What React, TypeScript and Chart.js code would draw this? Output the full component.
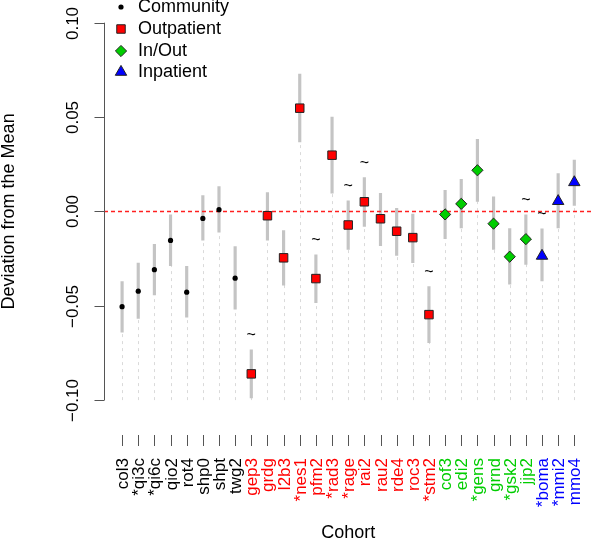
import React, { useEffect, useRef } from 'react';
import { Chart, registerables } from 'chart.js';
Chart.register(...registerables);

const cohorts = ['col3', '*qi3c', '*qi6c', 'qio2', 'rot4', 'shp0', 'shpt', 'twg2', 'gep3', 'grdg', 'l2b3', '*nes1', 'pfm2', '*rad3', '*rage', 'rai2', 'rau2', 'rde4', 'roc3', '*stm2', 'cof3', 'edi2', '*gens', 'grnd', '*gsk2', 'jjp2', '*boma', '*mmi2', 'mmo4'];
const groupOf = [0, 0, 0, 0, 0, 0, 0, 0, 1, 1, 1, 1, 1, 1, 1, 1, 1, 1, 1, 1, 2, 2, 2, 2, 2, 2, 3, 3, 3];
const means = [-0.0505, -0.0423, -0.0309, -0.0154, -0.0428, -0.0037, 0.0009, -0.0354, -0.0861, -0.0023, -0.0246, 0.0547, -0.0356, 0.0298, -0.0072, 0.0051, -0.0039, -0.0105, -0.0139, -0.0547, -0.0016, 0.0040, 0.0218, -0.0065, -0.0240, -0.0147, -0.0236, 0.0054, 0.0154];
const lower = [-0.0640, -0.0567, -0.0442, -0.0288, -0.0560, -0.0153, -0.0110, -0.0518, -0.0988, -0.0153, -0.0391, 0.0368, -0.0484, 0.0096, -0.0202, -0.0079, -0.0181, -0.0233, -0.0272, -0.0696, -0.0144, -0.0088, 0.0053, -0.0202, -0.0386, -0.0281, -0.0368, -0.0088, 0.0032];
const upper = [-0.0372, -0.0274, -0.0175, -0.0018, -0.0291, 0.0084, 0.0132, -0.0186, -0.0733, 0.0100, -0.0102, 0.0728, -0.0230, 0.0500, 0.0056, 0.0179, 0.0096, 0.0016, -0.0014, -0.0398, 0.0112, 0.0170, 0.0382, 0.0077, -0.0091, -0.0018, -0.0093, 0.0200, 0.0272];
const tildeFlags = [0, 0, 0, 0, 0, 0, 0, 0, 1, 0, 0, 0, 1, 0, 1, 1, 0, 0, 0, 1, 0, 0, 0, 0, 0, 1, 1, 0, 0];
const yTicks = [0.1, 0.05, 0, -0.05, -0.1];
const yTickLabels = ['0.10', '0.05', '0.00', '\u22120.05', '\u22120.10'];
const groupNames = ['Community', 'Outpatient', 'In/Out', 'Inpatient'];
const groupColors = ['#000000', '#ff0000', '#00cd00', '#0000ff'];
const groupStyles = ['circle', 'rect', 'rectRot', 'triangle'];
const groupRadius = [2.6, 6, 5.6, 6.6];
const xMin = -1.12;
const xMax = 29.12;

const FONT = '"Liberation Sans", Arial, sans-serif';

function drawMarker(ctx: CanvasRenderingContext2D, g: number, x: number, y: number) {
  ctx.save();
  ctx.fillStyle = groupColors[g];
  ctx.strokeStyle = '#222';
  ctx.lineWidth = 1;
  const r = groupRadius[g];
  ctx.beginPath();
  if (g === 0) {
    ctx.arc(x, y, r, 0, Math.PI * 2);
    ctx.fill();
  } else if (g === 1) {
    const s = Math.SQRT1_2 * r;
    ctx.rect(x - s, y - s, 2 * s, 2 * s);
    ctx.fill();
    ctx.stroke();
  } else if (g === 2) {
    ctx.moveTo(x - r, y);
    ctx.lineTo(x, y - r);
    ctx.lineTo(x + r, y);
    ctx.lineTo(x, y + r);
    ctx.closePath();
    ctx.fill();
    ctx.stroke();
  } else {
    const w = r * Math.sin((2 * Math.PI) / 3);
    ctx.moveTo(x, y - r);
    ctx.lineTo(x + w, y + r / 2);
    ctx.lineTo(x - w, y + r / 2);
    ctx.closePath();
    ctx.fill();
    ctx.stroke();
  }
  ctx.restore();
}

const decor = {
  id: 'decor',
  beforeDatasetsDraw(chart: any) {
    const { ctx } = chart;
    const x = chart.scales.x;
    const y = chart.scales.y;
    ctx.save();
    ctx.lineWidth = 1;
    ctx.strokeStyle = 'rgb(218,218,218)';
    ctx.setLineDash([3, 4]);
    means.forEach((m, i) => {
      const px = Math.round(x.getPixelForValue(i)) + 0.5;
      ctx.beginPath();
      ctx.moveTo(px, y.getPixelForValue(-0.1));
      ctx.lineTo(px, y.getPixelForValue(m));
      ctx.stroke();
    });
    ctx.restore();
  },
  afterDraw(chart: any) {
    const { ctx, chartArea } = chart;
    const x = chart.scales.x;
    const y = chart.scales.y;
    ctx.save();
    // y axis
    const ax = Math.round(chartArea.left) + 0.5;
    ctx.strokeStyle = '#555';
    ctx.lineWidth = 1;
    ctx.beginPath();
    ctx.moveTo(ax, y.getPixelForValue(0.1));
    ctx.lineTo(ax, y.getPixelForValue(-0.1));
    ctx.stroke();
    ctx.fillStyle = '#000';
    ctx.font = `17px ${FONT}`;
    ctx.textAlign = 'center';
    ctx.textBaseline = 'middle';
    yTicks.forEach((t, k) => {
      const py = Math.round(y.getPixelForValue(t)) + 0.5;
      ctx.beginPath();
      ctx.moveTo(ax - 10, py);
      ctx.lineTo(ax, py);
      ctx.stroke();
      ctx.save();
      ctx.translate(73.5, py);
      ctx.rotate(-Math.PI / 2);
      ctx.fillText(yTickLabels[k], 0, 0);
      ctx.restore();
    });
    // y title
    ctx.save();
    ctx.font = `18px ${FONT}`;
    ctx.translate(9, (y.getPixelForValue(0.1) + y.getPixelForValue(-0.1)) / 2);
    ctx.rotate(-Math.PI / 2);
    ctx.fillText('Deviation from the Mean', 0, 0);
    ctx.restore();
    // x ticks and labels
    cohorts.forEach((c, i) => {
      const px = Math.round(x.getPixelForValue(i)) + 0.5;
      ctx.strokeStyle = '#555';
      ctx.beginPath();
      ctx.moveTo(px, 435);
      ctx.lineTo(px, 446);
      ctx.stroke();
      ctx.save();
      ctx.fillStyle = groupColors[groupOf[i]];
      ctx.font = `17px ${FONT}`;
      ctx.translate(px + 1, 458);
      ctx.rotate(-Math.PI / 2);
      ctx.textAlign = 'right';
      ctx.textBaseline = 'middle';
      ctx.fillText(c, 0, 0);
      ctx.restore();
    });
    // x title
    ctx.font = `18px ${FONT}`;
    ctx.textAlign = 'center';
    ctx.textBaseline = 'alphabetic';
    ctx.fillStyle = '#000';
    ctx.fillText('Cohort', (chartArea.left + chartArea.right) / 2, 538);
    // tildes
    ctx.font = `16px ${FONT}`;
    ctx.textBaseline = 'middle';
    tildeFlags.forEach((f, i) => {
      if (!f) return;
      ctx.fillText('~', x.getPixelForValue(i), y.getPixelForValue(upper[i]) - 14);
    });
    // legend
    const rows = [7, 29, 51, 72];
    ctx.font = `18px ${FONT}`;
    ctx.textAlign = 'left';
    groupNames.forEach((n, g) => {
      drawMarker(ctx, g, 121, rows[g]);
      ctx.fillStyle = '#000';
      ctx.fillText(n, 138, rows[g]);
    });
    ctx.restore();
  },
};

export default function App() {
  const ref = useRef<HTMLCanvasElement>(null);
  useEffect(() => {
    const idx = cohorts.map((_, i) => i);
    const pts = (g: number) => idx.filter((i) => groupOf[i] === g).map((i) => ({ x: i, y: means[i] }));
    const pointSets = groupNames.map((name, g) => ({
      type: 'scatter' as const,
      label: name,
      data: pts(g),
      pointStyle: groupStyles[g],
      pointRadius: groupRadius[g],
      backgroundColor: groupColors[g],
      borderColor: '#222',
      borderWidth: g === 0 ? 0 : 1,
      order: 1,
    }));
    const chart = new Chart(ref.current as HTMLCanvasElement, {
      type: 'scatter',
      data: {
        datasets: [
          {
            type: 'line',
            label: 'zero',
            data: [
              { x: xMin, y: 0 },
              { x: xMax, y: 0 },
            ],
            borderColor: '#ff2020',
            backgroundColor: '#ff2020',
            borderWidth: 1.5,
            borderDash: [4, 3],
            pointRadius: 0,
            fill: false,
            order: 3,
          } as any,
          {
            type: 'bar',
            label: 'interval',
            data: idx.map((i) => ({ x: i, y: [lower[i], upper[i]] })),
            backgroundColor: '#c4c4c4',
            borderWidth: 0,
            barThickness: 2.5,
            grouped: false,
            order: 5,
          } as any,
          ...(pointSets as any[]),
        ],
      },
      options: {
        responsive: false,
        animation: false,
        devicePixelRatio: 1,
        events: [],
        layout: { padding: { left: 104, right: 0.7, top: 4.8, bottom: 124.8 } },
        scales: {
          x: { type: 'linear', min: xMin, max: xMax, offset: false, display: false },
          y: { type: 'linear', min: -0.108, max: 0.108, display: false },
        },
        plugins: { legend: { display: false }, tooltip: { enabled: false } },
      },
      plugins: [decor],
    });
    return () => chart.destroy();
  }, []);
  return (
    <div style={{ position: 'absolute', left: 0, top: 0, width: 600, height: 540, background: '#fff' }}>
      <canvas ref={ref} width={600} height={540} style={{ display: 'block' }} />
    </div>
  );
}
